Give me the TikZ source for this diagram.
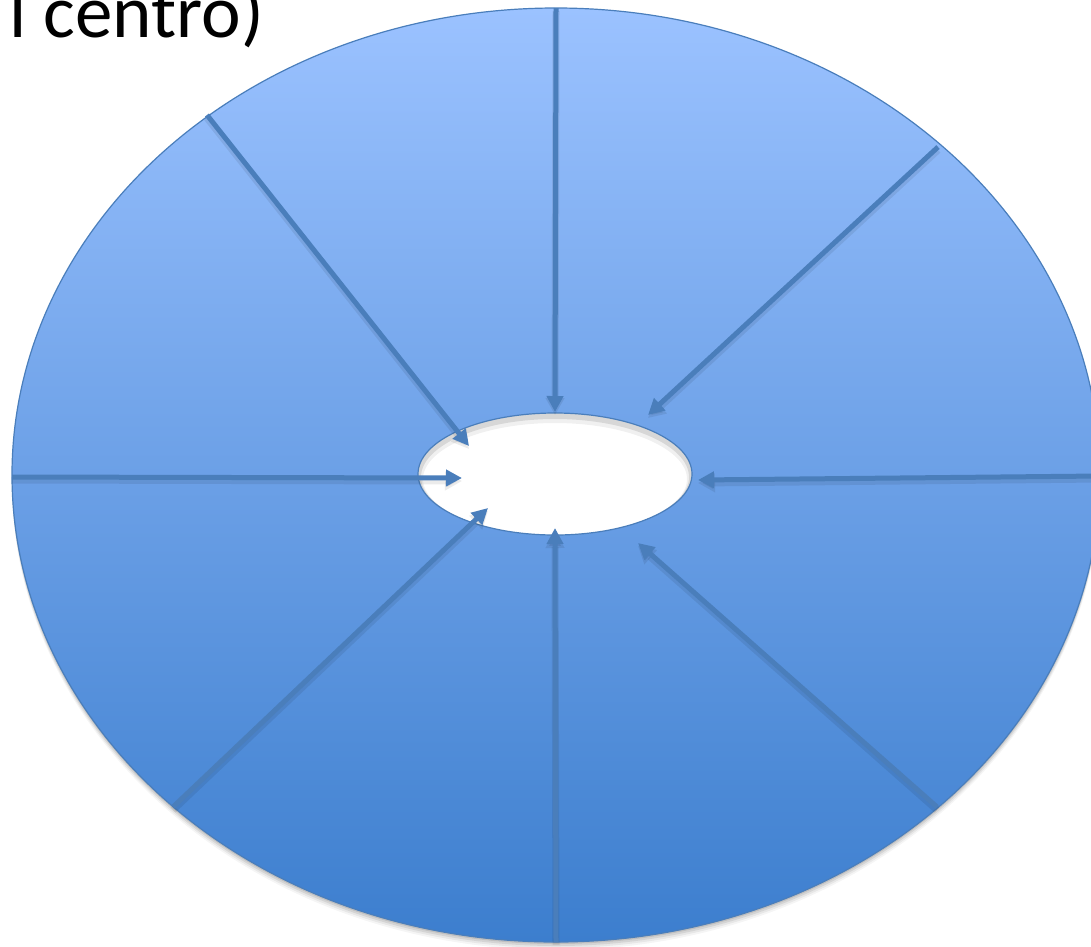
\documentclass[tikz,border=0pt]{standalone}
\usepackage{fontspec}
\setmainfont{Carlito}
\usetikzlibrary{arrows.meta,shapes.geometric}
\definecolor{topblue}{RGB}{155,194,255}
\definecolor{botblue}{RGB}{60,126,206}
\definecolor{edgeblue}{RGB}{74,126,187}
\tikzset{
  spoke/.style={draw=edgeblue, line width=5pt, -{Triangle[length=16pt,width=16pt]}},
  spokeshadow/.style={draw=black, opacity=0.08, line width=7pt, -{Triangle[length=17pt,width=18pt]}},
  title/.style={font=\fontsize{75}{90}\selectfont, inner sep=0pt, text=black}
}
\begin{document}
\begin{tikzpicture}[x=1pt,y=-1pt]
\useasboundingbox (0,0) rectangle (1091,946);
\clip (0,0) rectangle (1091,946);
% shadow of big ellipse
\foreach \s/\o in {2/0.10,4/0.08,6/0.06,8/0.04}
  \fill[black, opacity=\o] (556,475+\s) ellipse [x radius=544, y radius=467];
% big ellipse
\path[top color=topblue, bottom color=botblue, draw=edgeblue, line width=1.2pt]
  (556,475) ellipse [x radius=544, y radius=467];
\node[ellipse, minimum width=1088pt, minimum height=934pt, inner sep=0pt] (big) at (556,475) {};
% small ellipse
\fill[white] (555,474) ellipse [x radius=137, y radius=61];
\begin{scope}
  \clip (555,474) ellipse [x radius=137, y radius=61];
  \foreach \s/\o/\w in {3/0.10/6,5/0.06/10}
    \draw[black, opacity=\o, line width=\w pt] (555,474+\s) ellipse [x radius=137, y radius=61];
\end{scope}
\draw[edgeblue, line width=1.2pt] (555,474) ellipse [x radius=137, y radius=61];
\node[ellipse, minimum width=274pt, minimum height=122pt, inner sep=0pt] (small) at (555,474) {};
% spoke start points (on big ellipse) and tips
\coordinate (s1) at (556,8);    \coordinate (t1) at (555,412);
\coordinate (s2) at (207,115);  \coordinate (t2) at (469,446);
\coordinate (s3) at (12,477);   \coordinate (t3) at (462,478);
\coordinate (s4) at (173,807);  \coordinate (t4) at (488,508);
\coordinate (s5) at (556,942);  \coordinate (t5) at (555,528);
\coordinate (s6) at (937,807);  \coordinate (t6) at (638,543);
\coordinate (s7) at (1100,476); \coordinate (t7) at (698,480);
\coordinate (s8) at (938,147);  \coordinate (t8) at (648,415);
\foreach \i in {1,...,8}
  \draw[spokeshadow, transform canvas={yshift=-3pt}] (s\i) -- (t\i);
\foreach \i in {1,...,8}
  \draw[spoke] (s\i) -- (t\i);
% title fragment
\node[title, anchor=base east] (ttl) at (264,37) {l centro)};
\end{tikzpicture}
\end{document}
